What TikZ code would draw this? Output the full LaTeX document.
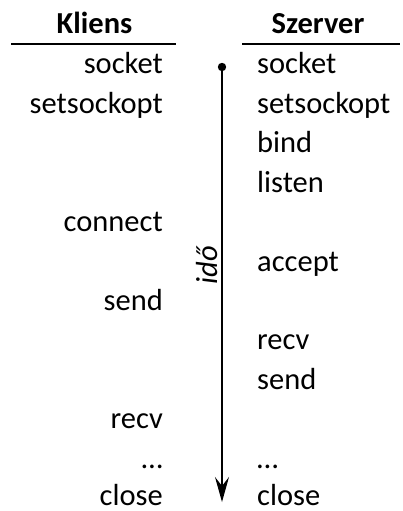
\documentclass[tikz,border=0pt]{standalone}
\usepackage{fontspec}
\setmainfont{Carlito}
\usetikzlibrary{arrows.meta}
\begin{document}
\begin{tikzpicture}[x=1pt,y=-1pt,
  lbl/.style={inner sep=0pt,font=\fontsize{30.5}{36}\selectfont},
  cl/.style={lbl,anchor=base east},
  sv/.style={lbl,anchor=base west},
  hdr/.style={inner sep=0pt,anchor=base,font=\fontsize{30.5}{36}\selectfont\bfseries},
  rule/.style={line width=1.4pt},
  timeline/.style={line width=1.3pt,-{Stealth[length=25pt,width=14pt,inset=9pt]}}]
\useasboundingbox (0,0) rectangle (403,511);
\node[hdr] (kh) at (94.5,34) {Kliens};
\node[hdr] (sh) at (318,34) {Szerver};
\coordinate (k1) at (11,44); \coordinate (k2) at (176,44);
\coordinate (s1) at (242,44); \coordinate (s2) at (400,44);
\draw[rule] (k1) -- (k2);
\draw[rule] (s1) -- (s2);
% client
\node[cl] (c1) at (163,74) {socket};
\node[cl] (c2) at (163,113.4) {setsockopt};
\node[cl] (c3) at (163,231.6) {connect};
\node[cl] (c4) at (163,310.4) {send};
\node[cl] (c5) at (163,428.6) {recv};
\node[cl] (c6) at (163,468) {…};
\node[cl] (c7) at (163,505.5) {close};
% server
\node[sv] (s1n) at (257,74) {socket};
\node[sv] (s2n) at (257,113.4) {setsockopt};
\node[sv] (s3n) at (257,152.8) {bind};
\node[sv] (s4n) at (257,192.2) {listen};
\node[sv] (s5n) at (257,271) {accept};
\node[sv] (s6n) at (257,349.8) {recv};
\node[sv] (s7n) at (257,389.2) {send};
\node[sv] (s8n) at (257,468) {…};
\node[sv] (s9n) at (257,505.5) {close};
% timeline
\coordinate (t0) at (222,67);
\coordinate (t1) at (222,502);
\fill (t0) circle (4.2);
\draw[timeline] (t0) -- (t1);
\node[lbl,rotate=90,anchor=base,font=\fontsize{30.5}{36}\selectfont\itshape] (ido) at (217,265) {idő};
\end{tikzpicture}
\end{document}
